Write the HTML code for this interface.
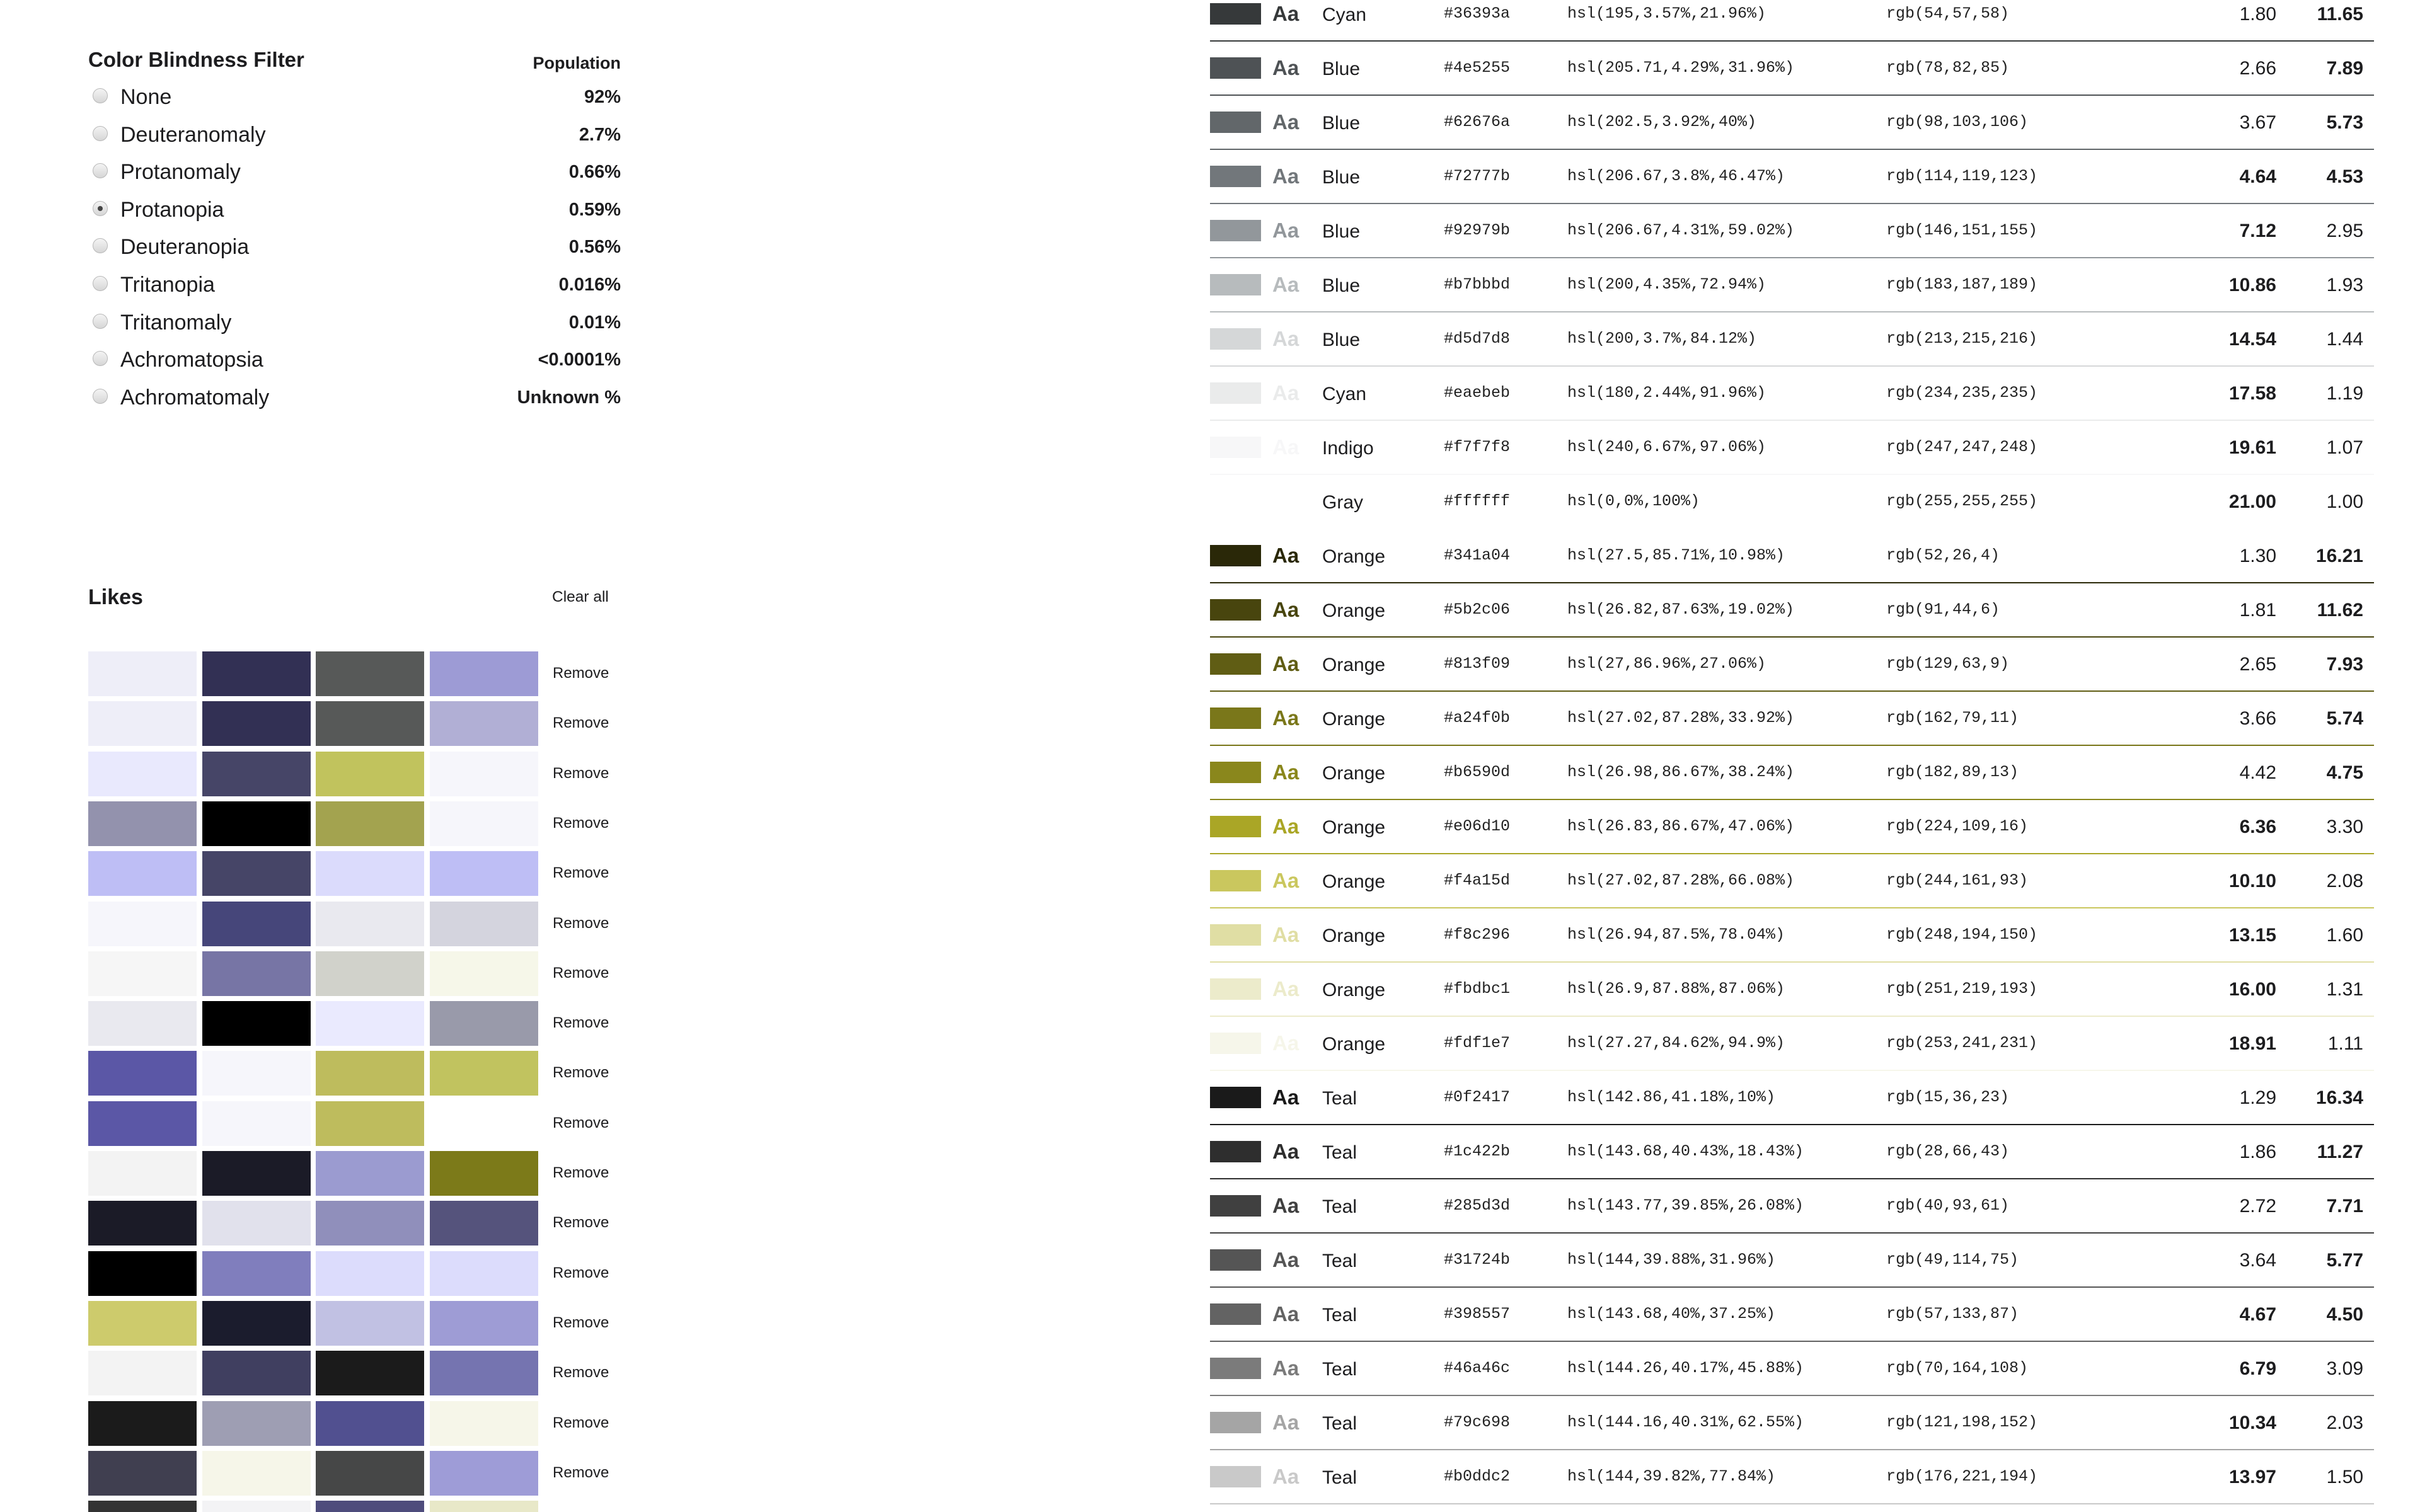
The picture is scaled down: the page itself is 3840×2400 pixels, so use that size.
<!DOCTYPE html>
<html><head><meta charset="utf-8">
<style>
html,body{margin:0;padding:0;background:#fff;width:3840px;height:2400px;overflow:hidden;position:relative;font-family:"Liberation Sans",sans-serif;color:#1d1d1f}
.a{position:absolute;white-space:nowrap}
.mid{height:60px;line-height:60px}
.mono{font-family:"Liberation Mono",monospace;font-size:25px;color:#222}
.radio{position:absolute;width:24px;height:24px;border-radius:50%;background:linear-gradient(#f4f4f4,#d6d6d6);border:1px solid #b8b8b8;box-sizing:border-box}
.radio.on::after{content:"";position:absolute;left:7px;top:7px;width:8px;height:8px;border-radius:50%;background:#444}
</style></head>
<body>
<div id="filter">
  <div class="a mid" style="left:140px;top:65px;font-size:33px;font-weight:bold">Color Blindness Filter</div>
  <div class="a mid" style="right:2855px;top:70px;font-size:27px;font-weight:bold">Population</div>
</div>
<div id="likes">
  <div class="a mid" style="left:140px;top:918px;font-size:34px;font-weight:bold">Likes</div>
  <div class="a mid" style="left:876px;top:918px;font-size:24.5px">Clear all</div>
</div>
<div id="table"></div>
<script>
const filterNames=["None","Deuteranomaly","Protanomaly","Protanopia","Deuteranopia","Tritanopia","Tritanomaly","Achromatopsia","Achromatomaly"];
const filterPop=["92%","2.7%","0.66%","0.59%","0.56%","0.016%","0.01%","<0.0001%","Unknown %"];
const filterSelected=3;
const likeRows=[
["#eeeef8","#323054","#575958","#9d9bd5"],
["#eeeef8","#323054","#575958","#b1afd5"],
["#e9e9fd","#464567","#c1c35d","#f6f6fb"],
["#9392ad","#000000","#a3a34f","#f6f6fb"],
["#bebef5","#464567","#dbdbfc","#bebef5"],
["#f6f6fb","#46467a","#e9e9ef","#d4d4de"],
["#f6f6f6","#7775a5","#d1d2cb","#f6f7e9"],
["#e9e9ef","#000000","#eaeafe","#999aaa"],
["#5b57a6","#f6f6fb","#bebc5d","#c1c35f"],
["#5b57a6","#f6f6fb","#bebc5d",null],
["#f3f3f3","#1b1b27","#9b9bd0","#7c7a19"],
["#1b1b27","#e1e1ec","#908fbb","#55537c"],
["#000000","#807ebd","#dcdcfc","#dcdcfc"],
["#cdcb6c","#1b1c2d","#c1c1e3","#9e9cd5"],
["#f3f3f3","#403f60","#1b1b1b","#7574b0"],
["#1b1b1b","#9e9eb3","#515090","#f6f6e9"],
["#403f50","#f6f6e9","#464747","#9e9cd7"],
["#333333","#f3f3f5","#4e4c7c","#e8e8c8"]];
const hexes=["#36393a","#4e5255","#62676a","#72777b","#92979b","#b7bbbd","#d5d7d8","#eaebeb","#f7f7f8","#ffffff","#341a04","#5b2c06","#813f09","#a24f0b","#b6590d","#e06d10","#f4a15d","#f8c296","#fbdbc1","#fdf1e7","#0f2417","#1c422b","#285d3d","#31724b","#398557","#46a46c","#79c698","#b0ddc2"];
const names=["Cyan","Blue","Blue","Blue","Blue","Blue","Blue","Cyan","Indigo","Gray","Orange","Orange","Orange","Orange","Orange","Orange","Orange","Orange","Orange","Orange","Teal","Teal","Teal","Teal","Teal","Teal","Teal","Teal"];
const hsls=["hsl(195,3.57%,21.96%)","hsl(205.71,4.29%,31.96%)","hsl(202.5,3.92%,40%)","hsl(206.67,3.8%,46.47%)","hsl(206.67,4.31%,59.02%)","hsl(200,4.35%,72.94%)","hsl(200,3.7%,84.12%)","hsl(180,2.44%,91.96%)","hsl(240,6.67%,97.06%)","hsl(0,0%,100%)","hsl(27.5,85.71%,10.98%)","hsl(26.82,87.63%,19.02%)","hsl(27,86.96%,27.06%)","hsl(27.02,87.28%,33.92%)","hsl(26.98,86.67%,38.24%)","hsl(26.83,86.67%,47.06%)","hsl(27.02,87.28%,66.08%)","hsl(26.94,87.5%,78.04%)","hsl(26.9,87.88%,87.06%)","hsl(27.27,84.62%,94.9%)","hsl(142.86,41.18%,10%)","hsl(143.68,40.43%,18.43%)","hsl(143.77,39.85%,26.08%)","hsl(144,39.88%,31.96%)","hsl(143.68,40%,37.25%)","hsl(144.26,40.17%,45.88%)","hsl(144.16,40.31%,62.55%)","hsl(144,39.82%,77.84%)"];
const rgbs=["rgb(54,57,58)","rgb(78,82,85)","rgb(98,103,106)","rgb(114,119,123)","rgb(146,151,155)","rgb(183,187,189)","rgb(213,215,216)","rgb(234,235,235)","rgb(247,247,248)","rgb(255,255,255)","rgb(52,26,4)","rgb(91,44,6)","rgb(129,63,9)","rgb(162,79,11)","rgb(182,89,13)","rgb(224,109,16)","rgb(244,161,93)","rgb(248,194,150)","rgb(251,219,193)","rgb(253,241,231)","rgb(15,36,23)","rgb(28,66,43)","rgb(40,93,61)","rgb(49,114,75)","rgb(57,133,87)","rgb(70,164,108)","rgb(121,198,152)","rgb(176,221,194)"];
const contrastWhite=["1.80","2.66","3.67","4.64","7.12","10.86","14.54","17.58","19.61","21.00","1.30","1.81","2.65","3.66","4.42","6.36","10.10","13.15","16.00","18.91","1.29","1.86","2.72","3.64","4.67","6.79","10.34","13.97"];
const contrastBlack=["11.65","7.89","5.73","4.53","2.95","1.93","1.44","1.19","1.07","1.00","16.21","11.62","7.93","5.74","4.75","3.30","2.08","1.60","1.31","1.11","16.34","11.27","7.71","5.77","4.50","3.09","2.03","1.50"];
const shown=["#36393a","#4e5255","#62676a","#72777b","#92979b","#b7bbbd","#d5d7d8","#eaebeb","#f7f7f8","#ffffff","#2a2808","#48450e","#605d14","#7a771a","#8a871c","#aaa626","#cac75e","#e0dea4","#ecebcb","#f6f6ea","#1a1a1a","#2e2e2e","#404040","#555555","#636363","#7b7b7b","#a5a5a5","#c9c9c9"];

function mk(parent,cls,style,text){const d=document.createElement('div');d.className=cls;d.style.cssText=style;if(text!=null)d.textContent=text;parent.appendChild(d);return d;}

const F=document.getElementById('filter');
filterNames.forEach((n,i)=>{
  const cy=154+i*59.6;
  const r=mk(F,'radio'+(i===filterSelected?' on':''),`left:147px;top:${cy-14}px`);
  
  
  const l=mk(F,'a mid',`left:191px;top:${cy-30}px;font-size:34px`,n);
  
  
  const v=mk(F,'a mid',`right:2855px;top:${cy-30}px;font-size:29px;font-weight:bold`,filterPop[i]);
  
  
});

const L=document.getElementById('likes');
likeRows.forEach((row,i)=>{
  const top=1034+i*79.3;
  row.forEach((c,j)=>{
    if(!c)return;
    const s=mk(L,'a',`left:${140+j*180.5}px;top:${top}px;width:172px;height:71px;background:${c}`);
    
    
  });
  const rm=mk(L,'a mid',`left:877px;top:${top+5}px;font-size:24px`,'Remove');
  
  
});

const T=document.getElementById('table');
hexes.forEach((h,i)=>{
  const cy=22+i*86, c=shown[i];
  const sw=mk(T,'a',`left:1920px;top:${cy-17}px;width:81px;height:34px;background:${c}`);
  
  
  const aa=mk(T,'a mid',`left:2019px;top:${cy-30}px;font-size:33px;font-weight:bold;color:${c}`,'Aa');
  
  
  const nm=mk(T,'a mid',`left:2098px;top:${cy-28}px;font-size:30px`,names[i]);
  
  
  const hx=mk(T,'a mid mono',`left:2291px;top:${cy-30}px`,h);
  
  
  const hs=mk(T,'a mid mono',`left:2487px;top:${cy-30}px`,hsls[i]);
  
  
  const rg=mk(T,'a mid mono',`left:2993px;top:${cy-30}px`,rgbs[i]);
  
  
  const w=parseFloat(contrastWhite[i]),b=parseFloat(contrastBlack[i]);
  const c1=mk(T,'a mid',`right:${3840-3612}px;top:${cy-29}px;font-size:30px;${w>=4.5?'font-weight:bold':''}`,contrastWhite[i]);
  
  
  const c2=mk(T,'a mid',`right:${3840-3750}px;top:${cy-29}px;font-size:30px;${b>=4.5?'font-weight:bold':''}`,contrastBlack[i]);
  
  
  const ln=mk(T,'a',`left:1920px;top:${cy+42}px;width:1847px;height:2px;background:${c}`);
  
  
});
</script>
</body></html>
